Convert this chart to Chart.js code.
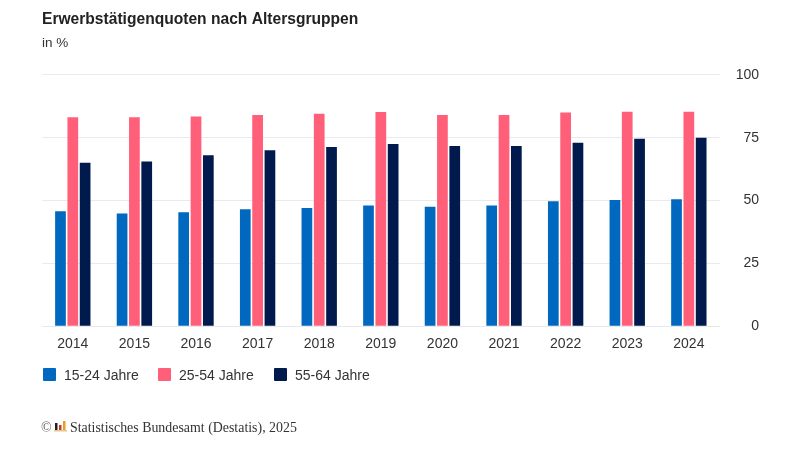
<!DOCTYPE html>
<html lang="de">
<head>
<meta charset="utf-8">
<title>Erwerbstätigenquoten nach Altersgruppen</title>
<script src="https://cdn.jsdelivr.net/npm/chart.js@4"></script>
<style>
html,body{margin:0;padding:0;background:#fff}
#wrap{position:relative;width:800px;height:450px;overflow:hidden}
#myChart{position:absolute;left:0;top:0}
#legend{position:absolute;left:43px;top:367px;height:16px;font:14px "Liberation Sans",Arial,sans-serif;color:#333}
#legend span{position:absolute;top:0;white-space:nowrap;line-height:16px}
#legend i{position:absolute;top:1px;width:13px;height:13px;border-radius:1px}
#source{position:absolute;left:41px;top:420px;font:13.9px "Liberation Serif","Times New Roman",serif;color:#333;white-space:nowrap}
#source b{position:absolute;left:29px;top:0;font-weight:normal}
#source svg{position:absolute;left:13px;top:1px}
#source em{font-style:normal;color:#666}
</style>
</head>
<body>
<div id="wrap">
<canvas id="myChart" width="800" height="450"></canvas>
<div id="legend"></div>
<div id="source"><em>©</em><svg width="13" height="12" viewBox="0 0 13 12"><rect x="1" y="2" width="2.5" height="7" fill="#222"/><rect x="5" y="4" width="2.5" height="5" fill="#c33"/><rect x="9" y="0" width="2.5" height="9" fill="#e8a020"/><rect x="0" y="9" width="13" height="1.5" fill="#e3c98a"/></svg><b>Statistisches Bundesamt (Destatis), 2025</b></div>
</div>
<script>
const years=['2014','2015','2016','2017','2018','2019','2020','2021','2022','2023','2024']
const jahre15_24=[45.7,44.9,45.3,46.5,47,48,47.5,48,49.7,50.2,50.5]
const jahre25_54=[83.2,83.2,83.5,84,84.5,85.2,84,84,85,85.3,85.3]
const jahre55_64=[65,65.5,68,70,71.3,72.5,71.7,71.7,73,74.6,75]
const yTicks=[0,25,50,75,100]
const farbeBlau='#0069bf'
const farbeRosa='#ff5f78'
const farbeNavy='#001a4d'
const legendX=[0,115,231]

const barStyle={categoryPercentage:0.6,barPercentage:0.87,borderWidth:0}
const ctx=document.getElementById('myChart')
const chart=new Chart(ctx,{
  type:'bar',
  data:{
    labels:years,
    datasets:[
      {label:'15-24 Jahre',data:jahre15_24,backgroundColor:farbeBlau,...barStyle},
      {label:'25-54 Jahre',data:jahre25_54,backgroundColor:farbeRosa,...barStyle},
      {label:'55-64 Jahre',data:jahre55_64,backgroundColor:farbeNavy,...barStyle}
    ]
  },
  options:{
    responsive:false,
    animation:false,
    layout:{padding:{left:42,right:41,top:0,bottom:95}},
    plugins:{
      legend:{display:false},
      tooltip:{enabled:false},
      title:{
        display:true,text:'Erwerbstätigenquoten nach Altersgruppen',align:'start',color:'#222',
        font:{family:'"Liberation Sans"',size:15.6,weight:'bold'},padding:{top:10,bottom:6}
      },
      subtitle:{
        display:true,text:'in %',align:'start',color:'#333',
        font:{family:'"Liberation Sans"',size:13.5},padding:{top:0,bottom:24}
      }
    },
    scales:{
      x:{
        grid:{display:false},
        border:{color:'#e6e8ec'},
        ticks:{color:'#333',font:{family:'"Liberation Sans"',size:14},padding:2,maxRotation:0}
      },
      y:{
        position:'right',min:0,max:100,
        afterBuildTicks:(axis)=>{axis.ticks=yTicks.map((v)=>({value:v}))},
        grid:{color:'#e8eaed',drawTicks:false},
        border:{display:false},
        ticks:{color:'#333',font:{family:'"Liberation Sans"',size:14},padding:8,crossAlign:'far'}
      }
    }
  }
})

const legend=document.getElementById('legend')
chart.data.datasets.forEach((ds,i)=>{
  const box=document.createElement('i')
  box.style.left=legendX[i]+'px'
  box.style.background=ds.backgroundColor
  const txt=document.createElement('span')
  txt.style.left=(legendX[i]+21)+'px'
  txt.textContent=ds.label
  legend.append(box,txt)
})
</script>
</body>
</html>
